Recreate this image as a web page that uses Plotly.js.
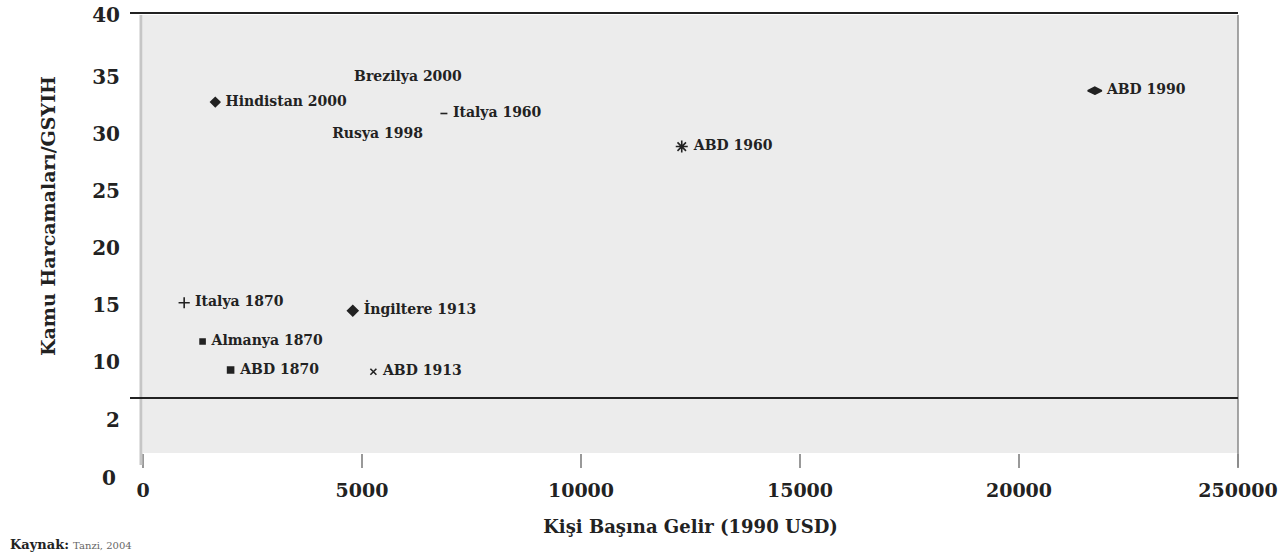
<!DOCTYPE html>
<html>
<head>
<meta charset="utf-8">
<script src="https://cdn.plot.ly/plotly-3.0.1.min.js"></script>
<style>html,body{margin:0;padding:0;background:#fff;}#chart{width:1280px;height:552px;}</style>
</head>
<body>
<div id="chart"></div>
<script>
// ---- data ----
const labels = ["Hindistan 2000","Brezilya 2000","Rusya 1998","Italya 1960","ABD 1960","ABD 1990",
                "Italya 1870","İngiltere 1913","Almanya 1870","ABD 1870","ABD 1913"];
const gdpPerCapita = [1650, 4600, 4100, 6870, 12300, 21730, 940, 4790, 1360, 2000, 5260];
const spendingShare = [32.8, 35.0, 30.0, 31.8, 28.9, 33.8, 15.2, 14.5, 11.8, 9.3, 9.15];
const xTickVals = [0, 5000, 10000, 15000, 20000, 25000];
const xTickText = ["0", "5000", "10000", "15000", "20000", "250000"];
const yTickVals = [4.91, 10, 15, 20, 25, 30, 35, 40.44];
const yTickText = ["2", "10", "15", "20", "25", "30", "35", "40"];

// ---- styles ----
const symbols = ["diamond","circle","circle","line-ew-open","asterisk-open","diamond-wide",
                 "cross-thin-open","diamond","square","square","x-thin-open"];
const sizes = [7, 6, 6, 5, 10, 10, 8, 8, 5, 6, 6];
const opac = [1, 0, 0, 1, 1, 1, 1, 1, 1, 1, 1];

const serif = "DejaVu Serif, Liberation Serif, serif";

const trace = {
  type: "scatter",
  mode: "markers+text",
  x: gdpPerCapita,
  y: spendingShare,
  text: labels,
  texttemplate: "\u00a0%{text}",
  textposition: "middle right",
  textfont: {family: serif, size: 14, color: "#222", weight: 700},
  marker: {symbol: symbols, size: sizes, opacity: opac, color: "#222",
           line: {color: "#222", width: 1.6}},
  hoverinfo: "text",
  cliponaxis: false,
  showlegend: false
};

const W = 1095, H = 438; // plot area size in px
const px = p => (p - 143) / W;
const py = q => (453 - q) / H;

const layout = {
  width: 1280, height: 552,
  margin: {l: 143, r: 42, t: 15, b: 99},
  paper_bgcolor: "#ffffff",
  plot_bgcolor: "#ececec",
  showlegend: false,
  xaxis: {
    range: [0, 25000],
    tickvals: xTickVals, ticktext: xTickText,
    ticks: "outside", ticklen: 14, tickcolor: "#999", tickwidth: 1.5,
    ticklabelstandoff: 6,
    tickfont: {family: serif, size: 19, color: "#222", weight: 700},
    showgrid: false, zeroline: false, showline: false,
    title: {text: "Kişi Başına Gelir (1990 USD)", font: {family: serif, size: 18, color: "#222", weight: 700}, standoff: 20}
  },
  yaxis: {
    range: [2.02, 40.44],
    tickvals: yTickVals, ticktext: yTickText,
    ticks: "", ticklabelstandoff: 22,
    tickfont: {family: serif, size: 20, color: "#222", weight: 700},
    showgrid: false, zeroline: false, showline: false
  },
  shapes: [
    {type: "line", xref: "paper", yref: "paper", x0: px(141), x1: px(141), y0: py(465), y1: 1,
     line: {color: "#c6c6c6", width: 3}},
    {type: "line", xref: "paper", yref: "paper", x0: 1, x1: 1, y0: py(467), y1: 1,
     line: {color: "#888", width: 1.5}},
    {type: "line", xref: "paper", yref: "paper", x0: px(130), x1: 1, y0: py(13), y1: py(13),
     line: {color: "#222", width: 2}},
    {type: "line", xref: "paper", yref: "paper", x0: px(130), x1: 1, y0: py(398), y1: py(398),
     line: {color: "#222", width: 2}}
  ],
  annotations: [
    {xref: "paper", yref: "paper", x: px(118), y: py(478), xanchor: "right", yanchor: "middle",
     text: "0", showarrow: false, font: {family: serif, size: 20, color: "#222", weight: 700}},
    {xref: "paper", yref: "paper", x: px(48), y: py(216), xanchor: "center", yanchor: "middle",
     textangle: -90, text: "Kamu Harcamaları/GSYIH", showarrow: false,
     font: {family: serif, size: 19, color: "#222", weight: 700}},
    {xref: "paper", yref: "paper", x: px(8), y: py(535), xanchor: "left", yanchor: "top",
     text: "<b>Kaynak:</b> <span style='font-size:10px;color:#666'>Tanzi, 2004</span>", showarrow: false,
     font: {family: serif, size: 13, color: "#222"}}
  ]
};

Plotly.newPlot("chart", [trace], layout, {displayModeBar: false, staticPlot: true});
</script>
</body>
</html>
